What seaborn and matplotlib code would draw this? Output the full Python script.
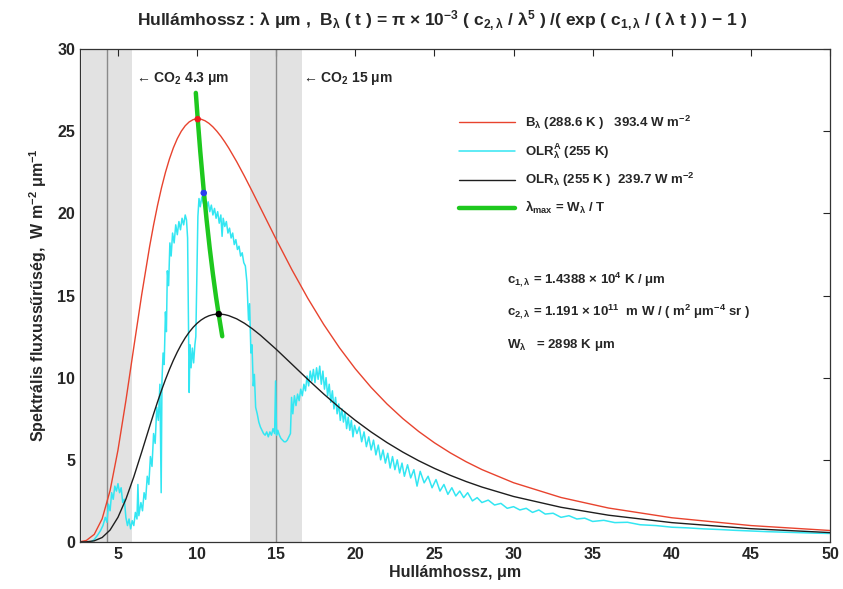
import matplotlib
matplotlib.use("Agg")
import matplotlib.pyplot as plt
import seaborn as sns

# planck curves (wavelength in um, flux in W m-2 um-1)
wl = [2.6, 3.0, 3.5, 4.0, 4.5, 5.0, 5.5, 6.0, 6.5, 7.0, 7.25, 7.5, 7.75, 8.0,
      8.25, 8.5, 8.75, 9.0, 9.25, 9.5, 9.75, 10.0, 10.25, 10.5, 10.75, 11.0,
      11.25, 11.5, 11.75, 12.0, 12.5, 13.0, 13.5, 14.0, 15.0, 16.0, 17.0,
      18.0, 19.0, 20.0, 21.0, 22.0, 23.0, 24.0, 25.0, 26.0, 27.0, 28.0, 30.0,
      33.0, 36.0, 40.0, 45.0, 50.0]
b_surface = [0.015, 0.093, 0.464, 1.412, 3.129, 5.596, 8.603, 11.852, 15.054,
             17.982, 19.291, 20.485, 21.552, 22.491, 23.301, 23.985, 24.547,
             24.994, 25.329, 25.563, 25.703, 25.755, 25.730, 25.634, 25.476,
             25.261, 24.996, 24.692, 24.347, 23.973, 23.147, 22.249, 21.306,
             20.341, 18.412, 16.555, 14.825, 13.242, 11.816, 10.539, 9.406,
             8.401, 7.513, 6.729, 6.037, 5.426, 4.885, 4.407, 3.607, 2.708,
             2.067, 1.475, 1.000, 0.700]
olr_255 = [0.001, 0.010, 0.071, 0.273, 0.727, 1.504, 2.605, 3.965, 5.478,
           7.031, 7.791, 8.525, 9.225, 9.883, 10.495, 11.057, 11.565, 12.021,
           12.422, 12.768, 13.064, 13.309, 13.506, 13.657, 13.767, 13.835,
           13.867, 13.867, 13.835, 13.774, 13.581, 13.307, 12.969, 12.586,
           11.727, 10.812, 9.894, 9.008, 8.174, 7.402, 6.694, 6.052, 5.471,
           4.948, 4.479, 4.058, 3.681, 3.344, 2.770, 2.112, 1.631, 1.179,
           0.810, 0.573]

# measured outgoing spectrum
spec_wl = [3.30, 3.50, 3.70, 3.90, 4.05, 4.20, 4.30, 4.40, 4.50, 4.60, 4.70,
           4.80, 4.90, 5.00, 5.10, 5.20, 5.30, 5.40, 5.50, 5.60, 5.70, 5.80,
           5.90, 6.00, 6.10, 6.20, 6.26, 6.32, 6.45, 6.55, 6.65, 6.75, 6.85,
           6.95, 7.05, 7.15, 7.25, 7.35, 7.45, 7.55, 7.65, 7.73, 7.78, 7.85,
           7.92, 8.00, 8.06, 8.12, 8.20, 8.28, 8.36, 8.45, 8.55, 8.65, 8.75,
           8.85, 8.95, 9.05, 9.15, 9.25, 9.33, 9.40, 9.45, 9.50, 9.55, 9.62,
           9.70, 9.78, 9.86, 9.92, 9.98, 10.05, 10.12, 10.20, 10.30, 10.40,
           10.50, 10.60, 10.70, 10.80, 10.90, 11.00, 11.10, 11.20, 11.30,
           11.40, 11.50, 11.58, 11.65, 11.75, 11.85, 11.95, 12.05, 12.15,
           12.25, 12.35, 12.45, 12.55, 12.65, 12.75, 12.85, 12.95, 13.05,
           13.15, 13.25, 13.32, 13.40, 13.47, 13.55, 13.62, 13.70, 13.80,
           13.90, 14.00, 14.10, 14.20, 14.30, 14.40, 14.50, 14.60, 14.70,
           14.80, 14.90, 14.96, 15.02, 15.10, 15.20, 15.30, 15.40, 15.50,
           15.60, 15.70, 15.80, 15.90, 15.97, 16.05, 16.15, 16.25, 16.35,
           16.45, 16.55, 16.65, 16.75, 16.85, 16.95, 17.05, 17.15, 17.25,
           17.35, 17.45, 17.55, 17.65, 17.75, 17.85, 17.95, 18.05, 18.15,
           18.25, 18.35, 18.45, 18.55, 18.65, 18.75, 18.85, 18.95, 19.05,
           19.15, 19.25, 19.35, 19.45, 19.55, 19.65, 19.75, 19.85, 19.95,
           20.10, 20.25, 20.40, 20.55, 20.70, 20.85, 21.00, 21.15, 21.30,
           21.45, 21.60, 21.75, 21.90, 22.05, 22.20, 22.35, 22.50, 22.65,
           22.80, 22.95, 23.10, 23.30, 23.50, 23.70, 23.90, 24.10, 24.35,
           24.60, 24.85, 25.10, 25.35, 25.60, 25.85, 26.10, 26.35, 26.60,
           26.85, 27.10, 27.40, 27.70, 28.00, 28.40, 28.80, 29.20, 29.60,
           30.00, 30.40, 30.80, 31.20, 31.60, 32.00, 32.50, 33.00, 33.50,
           34.00, 34.50, 35.00, 35.70, 36.40, 37.20, 38.00, 39.00, 40.00,
           41.00, 42.00, 43.00, 44.00, 45.00, 46.00, 47.00, 48.00, 49.00,
           50.00]
spec_flux = [0.00, 0.15, 0.40, 0.70, 1.00, 1.50, 1.20, 2.30, 1.90, 3.00, 2.60,
             3.40, 3.10, 3.55, 3.00, 3.30, 2.40, 2.60, 1.50, 1.00, 1.40, 0.80,
             1.30, 1.00, 1.80, 1.40, 3.50, 1.60, 2.40, 1.90, 3.00, 2.60, 4.00,
             3.50, 5.20, 4.60, 6.60, 6.00, 8.20, 7.40, 9.60, 3.00, 9.80, 11.50,
             10.80, 14.00, 12.80, 16.50, 15.60, 18.20, 17.40, 18.80, 18.20,
             19.30, 18.70, 19.50, 19.00, 19.70, 19.30, 19.90, 19.60, 18.50,
             14.00, 9.10, 12.00, 10.60, 11.80, 10.90, 12.00, 12.50, 16.00,
             19.80, 20.90, 20.40, 21.00, 20.60, 20.90, 20.30, 20.70, 20.10,
             20.50, 19.90, 20.30, 19.70, 20.10, 19.40, 19.90, 18.60, 19.70,
             19.20, 19.50, 18.80, 19.10, 18.50, 18.80, 18.10, 18.40, 17.80,
             18.00, 17.40, 17.60, 17.00, 16.80, 15.80, 13.50, 14.50, 11.50,
             12.00, 9.50, 10.20, 8.20, 7.80, 7.30, 7.00, 6.80, 6.60, 6.50,
             6.70, 6.40, 6.70, 6.50, 6.90, 6.60, 9.80, 6.50, 6.80, 6.50, 6.30,
             6.20, 6.10, 6.10, 6.20, 6.40, 6.60, 8.80, 7.80, 8.90, 8.30, 9.00,
             8.60, 9.30, 8.90, 9.60, 9.20, 10.10, 9.50, 10.40, 9.80, 10.50,
             9.70, 10.60, 9.90, 10.70, 9.60, 10.40, 9.30, 10.00, 8.90, 9.60,
             8.50, 9.20, 8.10, 8.80, 7.80, 8.40, 7.40, 8.10, 7.30, 7.90, 6.90,
             7.60, 6.80, 7.40, 6.40, 7.10, 6.60, 7.00, 6.10, 6.70, 5.80, 6.40,
             5.60, 6.20, 5.30, 5.90, 5.00, 5.60, 4.80, 5.40, 4.50, 5.20, 4.40,
             5.00, 4.20, 4.80, 4.00, 4.70, 3.90, 4.40, 3.40, 4.30, 3.60, 4.00,
             3.30, 3.80, 3.10, 3.50, 2.90, 3.30, 2.80, 3.10, 2.70, 3.00, 2.50,
             2.70, 2.40, 2.55, 2.25, 2.35, 2.05, 2.15, 1.95, 2.05, 1.80, 1.95,
             1.70, 1.75, 1.50, 1.60, 1.40, 1.45, 1.25, 1.32, 1.18, 1.20, 1.05,
             1.00, 0.90, 0.86, 0.80, 0.76, 0.71, 0.67, 0.63, 0.60, 0.57, 0.54,
             0.52]

# wien displacement locus
wien_wl = [9.92, 10.04, 10.20, 10.42, 10.60, 10.80, 11.00, 11.20, 11.37, 11.59]
wien_flux = [27.33, 25.73, 23.77, 21.38, 19.61, 17.86, 16.30, 14.89, 13.82, 12.52]

# peak markers: surface planck, spectrum, 255 K planck
peak_wl = [10.04, 10.42, 11.37]
peak_flux = [25.73, 21.24, 13.87]
peak_colors = ["#ee1c1c", "#2a3cf0", "#000000"]

# CO2 absorption bands (centre, half width)
co2_centres = [4.3, 15.0]
co2_half = [1.6, 1.65]
co2_labels = ["← CO$_2$ 4.3 μm", "← CO$_2$ 15 μm"]

sns.set_style("white")
plt.rcParams["font.family"] = ["Liberation Sans", "DejaVu Sans"]
plt.rcParams["font.weight"] = "bold"
plt.rcParams["mathtext.fontset"] = "custom"
plt.rcParams["mathtext.rm"] = "Liberation Sans:bold"
plt.rcParams["mathtext.it"] = "Liberation Sans:bold"
plt.rcParams["mathtext.bf"] = "Liberation Sans:bold"
plt.rcParams["mathtext.default"] = "bf"

fig = plt.figure(figsize=(8.43, 5.89), dpi=100)
ax = fig.add_axes([0.0949, 0.0798, 0.8897, 0.837])

for c, h in zip(co2_centres, co2_half):
    ax.axvspan(c - h, c + h, color="#e2e2e2", lw=0, zorder=0)
    ax.axvline(c, color="#8a8a8a", lw=1.0, zorder=1)

sns.lineplot(x=wl, y=b_surface, ax=ax, color="#e8432e", lw=1.0, estimator=None,
             label="B$_λ$ (288.6 K )   393.4 W m$^{-2}$")
sns.lineplot(x=spec_wl, y=spec_flux, ax=ax, color="#33e6f2", lw=1.1, estimator=None,
             label="OLR$_λ^A$ (255 K)")
sns.lineplot(x=wl, y=olr_255, ax=ax, color="#1e1e1e", lw=1.0, estimator=None,
             label="OLR$_λ$ (255 K )  239.7 W m$^{-2}$")
sns.lineplot(x=wien_wl, y=wien_flux, ax=ax, color="#1ec81e", lw=3.2, estimator=None,
             label="λ$_{max}$ = W$_λ$ / T")
ax.scatter(peak_wl, peak_flux, c=peak_colors, s=22, zorder=5, edgecolors="none")

ax.legend(loc="upper left", bbox_to_anchor=(0.49, 0.893), frameon=False,
          handlelength=4.2, labelspacing=0.75, fontsize=9.5)

label_x = [6.15, 16.7]
for lx, lab in zip(label_x, co2_labels):
    ax.text(lx, 28.2, lab, fontsize=10, va="center", ha="left")

consts = ["c$_{1,λ}$ = 1.4388 × 10$^4$ K / μm",
          "c$_{2,λ}$ = 1.191 × 10$^{11}$  m W / ( m$^2$ μm$^{-4}$ sr )",
          "W$_λ$   = 2898 K μm"]
for i, s in enumerate(consts):
    ax.text(29.6, 16.0 - 2.0 * i, s, fontsize=9.5, va="center", ha="left")

ax.set_xlim(2.6, 50)
ax.set_ylim(0, 30)
ax.set_xticks(range(5, 51, 5))
ax.set_yticks(range(0, 31, 5))
ax.tick_params(direction="in", top=True, right=True, length=5, labelsize=11.5)
for lab in ax.get_xticklabels() + ax.get_yticklabels():
    lab.set_fontweight("bold")
for sp in ax.spines.values():
    sp.set_color("#333333")
    sp.set_linewidth(0.9)

ax.set_xlabel("Hullámhossz, μm", fontsize=11.5, fontweight="bold", labelpad=2)
ax.set_ylabel("Spektrális fluxussűrűség,  W m$^{-2}$ μm$^{-1}$", fontsize=11.5,
              fontweight="bold", labelpad=6)
fig.suptitle("Hullámhossz : λ μm ,  B$_λ$ ( t ) = π × 10$^{-3}$ ( c$_{2,λ}$ / λ$^5$ )"
             " /( exp ( c$_{1,λ}$ / ( λ t ) ) − 1 )",
             x=0.525, y=0.985, fontsize=12.5, fontweight="bold")

fig.savefig("out.png", dpi=100)
